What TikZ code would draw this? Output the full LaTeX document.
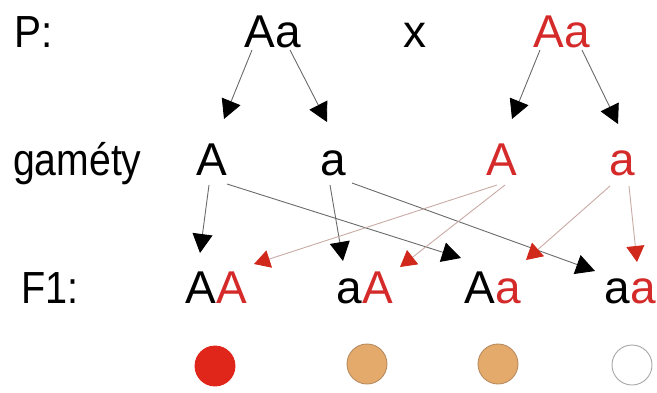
\documentclass[tikz,border=0pt]{standalone}
\usepackage{fontspec}
\setmainfont{Liberation Sans}
\usetikzlibrary{arrows.meta,calc}
\definecolor{allred}{HTML}{D42A2A}
\definecolor{tipred}{HTML}{D0281A}
\definecolor{lineblk}{HTML}{6A6A6A}
\definecolor{linered}{HTML}{C9AAA4}
\definecolor{dotred}{HTML}{E0261A}
\definecolor{dottan}{HTML}{E3AA6C}
\definecolor{dottanb}{HTML}{B88A5E}
\tikzset{
  lbl/.style={anchor=base west,inner sep=0pt,font=\fontsize{45}{50}\selectfont},
  gen/.style={anchor=base,inner sep=0pt,font=\fontsize{46}{50}\selectfont},
  blkarrow/.style={draw=lineblk,line width=0.9pt,
    -{Triangle[length=19pt,width=20pt,color=black,fill=black]}},
  redarrow/.style={draw=linered,line width=0.9pt,
    -{Triangle[length=16pt,width=18pt,color=tipred,fill=tipred]}},
  dot/.style={circle,minimum size=40pt,inner sep=0pt,line width=0.9pt}
}
\begin{document}
\begin{tikzpicture}[x=1pt,y=-1pt]
  \useasboundingbox (0,0) rectangle (657,392);

  % row labels
  \node[lbl] (lp)   at (14,47)  {\scalebox{0.9}[1]{P:}};
  \node[lbl] (lgam) at (13,175) {\scalebox{0.87}[1]{gaméty}};
  \node[lbl] (lf)   at (21,303) {\scalebox{0.88}[1]{F1:}};

  % parents
  \node[gen] (pA) at (273,47) {Aa};
  \node[gen] (cross) at (415,47) {x};
  \node[gen,text=allred] (pB) at (562,47) {Aa};

  % gametes
  \node[gen] (gA)  at (212,175) {A};
  \node[gen] (ga)  at (333,175) {a};
  \node[gen,text=allred] (gRA) at (502,175) {A};
  \node[gen,text=allred] (gRa) at (622,175) {a};

  % offspring
  \node[gen] (fAA) at (216,303) {A\textcolor{allred}{A}};
  \node[gen] (faA) at (365,303) {a\textcolor{allred}{A}};
  \node[gen] (fAa) at (493,303) {A\textcolor{allred}{a}};
  \node[gen] (faa) at (630,303) {a\textcolor{allred}{a}};

  % phenotypes
  \node[dot,fill=dotred,draw=dotred] (cAA) at (215,366) {};
  \node[dot,fill=dottan,draw=dottanb] (caA) at (367,364) {};
  \node[dot,fill=dottan,draw=dottanb] (cAa) at (498,364) {};
  \node[dot,fill=white,draw=gray!70] (caa) at (632,365) {};

  % parents to gametes
  \draw[blkarrow] ($(pA.base)+(-21,3)$) -- ($(gA.base)+(12,-56)$);
  \draw[blkarrow] ($(pA.base)+(17,3)$) -- ($(ga.base)+(-6,-53)$);
  \draw[blkarrow] ($(pB.base)+(-22,3)$) -- ($(gRA.base)+(10,-56)$);
  \draw[blkarrow] ($(pB.base)+(20,3)$) -- ($(gRa.base)+(-4,-51)$);

  % gametes to offspring
  \draw[blkarrow] ($(gA.base)+(-3,10)$) -- ($(fAA.base)+(-16,-50)$);
  \draw[blkarrow] ($(gA.base)+(15,9)$) -- ($(fAa.base)+(-32,-45)$);
  \draw[blkarrow] ($(ga.base)+(-3,10)$) -- ($(faA.base)+(-22,-42)$);
  \draw[blkarrow] ($(ga.base)+(19,8)$) -- ($(faa.base)+(-35,-32)$);
  \draw[redarrow] ($(gRA.base)+(-5,10)$) -- ($(fAA.base)+(38,-39)$);
  \draw[redarrow] ($(gRA.base)+(3,10)$) -- ($(faA.base)+(35,-36)$);
  \draw[redarrow] ($(gRa.base)+(-12,11)$) -- ($(fAa.base)+(33,-43)$);
  \draw[redarrow] ($(gRa.base)+(7,11)$) -- ($(faa.base)+(7,-41)$);
\end{tikzpicture}
\end{document}
